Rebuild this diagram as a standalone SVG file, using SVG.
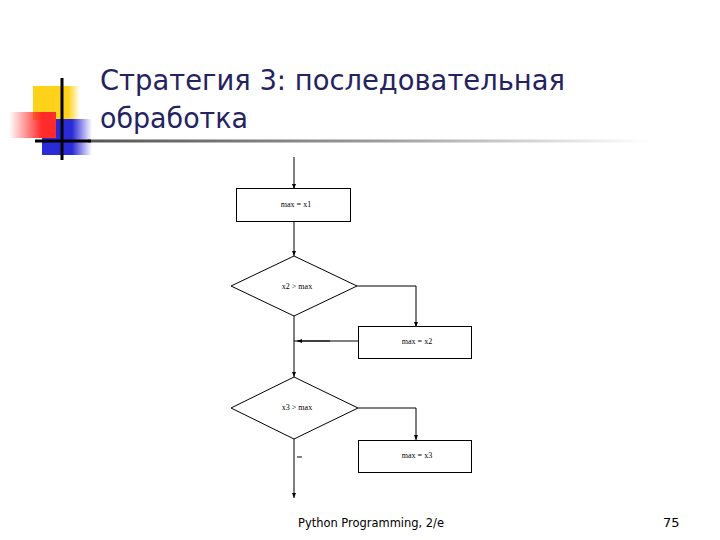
<svg xmlns="http://www.w3.org/2000/svg" width="720" height="540" viewBox="0 0 720 540">
<defs>
<style>
.t{font-family:"DejaVu Sans","Liberation Sans",sans-serif;fill:#24235f}
.f{font-family:"DejaVu Sans","Liberation Sans",sans-serif;fill:#000;font-size:13px}
.s{fill:#fff;stroke:#000;stroke-width:1}
.l{font-family:"Liberation Serif",serif;font-size:8px;fill:#000;text-anchor:middle}
.c{fill:none;stroke:#000;stroke-width:1}
</style>
<marker id="a" markerWidth="6" markerHeight="6" refX="5" refY="3" orient="auto" markerUnits="userSpaceOnUse">
<path d="M0,1 L5,3 L0,5 Z" fill="#000"/>
</marker>
<linearGradient id="gy" x1="0" x2="1" y1="0" y2="0">
<stop offset="0" stop-color="#ffd21a"/><stop offset="0.75" stop-color="#ffd21a"/><stop offset="1" stop-color="#ffd21a" stop-opacity="0"/>
</linearGradient>
<linearGradient id="gr" x1="0" x2="1" y1="0" y2="0">
<stop offset="0" stop-color="#ff2a2a" stop-opacity="0"/><stop offset="0.7" stop-color="#ff2a2a"/><stop offset="1" stop-color="#ff2a2a"/>
</linearGradient>
<linearGradient id="gb" x1="0" x2="1" y1="0" y2="0">
<stop offset="0" stop-color="#2a2ad6"/><stop offset="0.6" stop-color="#2a2ad6"/><stop offset="1" stop-color="#2a2ad6" stop-opacity="0"/>
</linearGradient>
<linearGradient id="gl" x1="0" x2="1" y1="0" y2="0">
<stop offset="0" stop-color="#555"/><stop offset="0.5" stop-color="#999"/><stop offset="1" stop-color="#999" stop-opacity="0"/>
</linearGradient>
</defs>
<rect width="720" height="540" fill="#fff"/>
<g id="decor">
<rect x="33" y="86" width="47" height="34" fill="url(#gy)"/>
<rect x="42" y="119" width="50" height="36" fill="url(#gb)"/>
<rect x="9" y="112" width="47" height="26" fill="url(#gr)"/>
<rect x="88" y="139.5" width="560" height="3" fill="url(#gl)"/>
<rect x="35" y="139.5" width="56" height="3" fill="#000"/>
<rect x="60.5" y="78" width="3" height="82" fill="#000"/>
</g>
<g id="title">
<text class="t" x="100" y="90" font-size="28" textLength="465" lengthAdjust="spacingAndGlyphs">Стратегия 3: последовательная</text>
<text class="t" x="100" y="128" font-size="28" textLength="148" lengthAdjust="spacingAndGlyphs">обработка</text>
</g>
<g id="connectors">
<line class="c" x1="294" y1="157" x2="294" y2="189" marker-end="url(#a)"/>
<line class="c" x1="294" y1="222" x2="294" y2="256" marker-end="url(#a)"/>
<polyline class="c" points="357,286 416,286 416,327" marker-end="url(#a)"/>
<line class="c" x1="358" y1="341" x2="294" y2="341"/>
<line class="c" x1="330" y1="341" x2="297" y2="341" marker-end="url(#a)"/>
<line class="c" x1="294" y1="316" x2="294" y2="377" marker-end="url(#a)"/>
<polyline class="c" points="358,408 416,408 416,440" marker-end="url(#a)"/>
<line class="c" x1="294" y1="439" x2="294" y2="498" marker-end="url(#a)"/>
<line class="c" x1="297" y1="457" x2="302" y2="457"/>
</g>
<g id="n1"><rect class="s" x="236.5" y="188.5" width="114" height="33"/><text class="l" x="296" y="207">max = x1</text></g>
<g id="n2"><polygon class="s" points="294,256 357,286 294,316 231,286"/><text class="l" x="297" y="289">x2 &gt; max</text></g>
<g id="n3"><rect class="s" x="358.5" y="326.5" width="113" height="32"/><text class="l" x="417" y="344">max = x2</text></g>
<g id="n4"><polygon class="s" points="294,377 358,408 294,439 231,408"/><text class="l" x="297" y="410">x3 &gt; max</text></g>
<g id="n5"><rect class="s" x="358.5" y="440.5" width="113" height="32"/><text class="l" x="417" y="458">max = x3</text></g>
<g id="footer">
<text class="f" x="298" y="527" textLength="146" lengthAdjust="spacingAndGlyphs">Python Programming, 2/e</text>
<text class="f" x="663" y="527">75</text>
</g>
</svg>
